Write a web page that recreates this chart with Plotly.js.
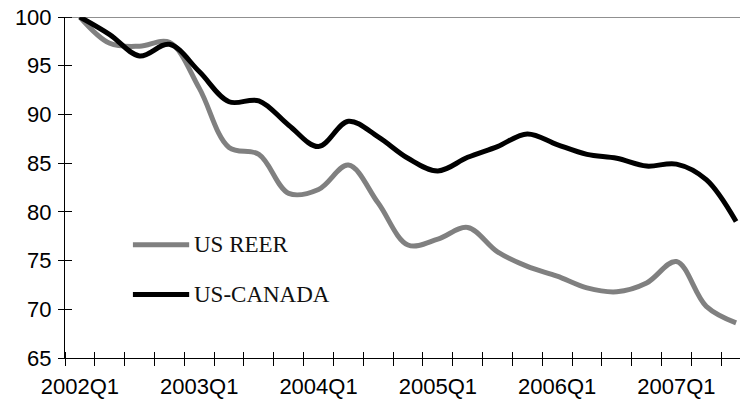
<!DOCTYPE html>
<html><head><meta charset="utf-8">
<script src="https://cdn.plot.ly/plotly-3.0.1.min.js"></script>
<style>
html,body{margin:0;padding:0;overflow:hidden;background:#fff;width:740px;height:404px}
#chart{width:760px;height:404px}
</style>
</head><body><div id="chart"></div>
<script>
const quarters = ['2002Q1','2002Q2','2002Q3','2002Q4','2003Q1','2003Q2','2003Q3','2003Q4',
  '2004Q1','2004Q2','2004Q3','2004Q4','2005Q1','2005Q2','2005Q3','2005Q4',
  '2006Q1','2006Q2','2006Q3','2006Q4','2007Q1','2007Q2','2007Q3'];
const usReer = [100, 97.3, 97.0, 97.4, 92.7, 86.6, 85.9, 81.9, 82.3, 84.8, 80.9, 76.6,
  77.2, 78.4, 75.9, 74.4, 73.4, 72.2, 71.8, 72.7, 74.9, 70.3, 68.6];
const usCanada = [100, 98.2, 96.0, 97.2, 94.4, 91.3, 91.4, 88.9, 86.7, 89.3, 87.7, 85.5,
  84.2, 85.6, 86.7, 88.0, 86.9, 85.9, 85.5, 84.7, 84.9, 83.3, 79.0];
const tickLabels = ['2002Q1','2003Q1','2004Q1','2005Q1','2006Q1','2007Q1'];
const seriesNames = ['US REER','US-CANADA'];
const seriesColors = ['#808080','#000000'];

const W = 760, H = 404, M = {l: 65, r: 9, t: 17, b: 46};
const plotW = W - M.l - M.r, plotH = H - M.t - M.b;
const tickHalf = 7; // ticks cross the axis line by 7px on each side

const n = quarters.length;
const xr = [-0.5, n - 0.5];
const boundaries = quarters.map((q, i) => i - 0.5).concat([n - 0.5]);
const tickFont = {family: 'Liberation Sans, Arial, sans-serif', size: 22, color: '#000'};

const traces = [
  {x: quarters, y: usReer, name: seriesNames[0], type: 'scatter', mode: 'lines',
   line: {color: seriesColors[0], width: 5, shape: 'spline', smoothing: 1}, hoverinfo: 'x+y+name'},
  {x: quarters, y: usCanada, name: seriesNames[1], type: 'scatter', mode: 'lines',
   line: {color: seriesColors[1], width: 5, shape: 'spline', smoothing: 1}, hoverinfo: 'x+y+name'},
  {x: [], y: [], xaxis: 'x2', yaxis: 'y2', showlegend: false, hoverinfo: 'skip'}
];

// legend drawn manually (long line samples as in the reference)
const legShapes = [], legAnn = [];
const legY = [0.332, 0.186];
seriesNames.forEach((nm, i) => {
  legShapes.push({type: 'line', xref: 'paper', yref: 'paper', x0: 0.099, x1: 0.181, y0: legY[i], y1: legY[i],
    line: {color: seriesColors[i], width: 5}});
  legAnn.push({xref: 'paper', yref: 'paper', x: 0.185, y: legY[i], xanchor: 'left', yanchor: 'middle',
    showarrow: false, text: nm, font: {family: 'Liberation Serif, Times New Roman, serif', size: 23, color: '#111'}});
});

const layout = {
  width: W, height: H,
  margin: M,
  paper_bgcolor: '#fff', plot_bgcolor: '#fff',
  showlegend: false,
  xaxis: {type: 'category', categoryorder: 'array', categoryarray: quarters, range: xr,
    tickmode: 'array', tickvals: tickLabels, ticktext: tickLabels, ticks: '', ticklabelstandoff: 9,
    showline: true, linecolor: '#000', linewidth: 1, showgrid: false, zeroline: false,
    tickfont: tickFont, fixedrange: true},
  // crossing tick marks at the quarter boundaries
  xaxis2: {overlaying: 'x', anchor: 'free', position: tickHalf / plotH, side: 'bottom',
    type: 'linear', range: xr, tickmode: 'array', tickvals: boundaries,
    ticks: 'outside', ticklen: 2 * tickHalf, tickcolor: '#000', tickwidth: 1, showticklabels: false,
    showline: false, showgrid: false, zeroline: false},
  yaxis: {range: [65, 100], dtick: 5, tick0: 65, ticks: '', ticklabelstandoff: 8,
    showline: true, linecolor: '#000', linewidth: 1, showgrid: false, zeroline: false,
    tickfont: tickFont, fixedrange: true},
  yaxis2: {overlaying: 'y', anchor: 'free', position: tickHalf / plotW, side: 'left',
    range: [65, 100], dtick: 5, tick0: 65, ticks: 'outside', ticklen: 2 * tickHalf,
    tickcolor: '#000', tickwidth: 1, showticklabels: false, showline: false, showgrid: false, zeroline: false},
  shapes: [{type: 'line', xref: 'paper', yref: 'y', x0: 0, x1: 1, y0: 100, y1: 100,
    line: {color: '#222', width: 1}}].concat(legShapes),
  annotations: legAnn
};

Plotly.newPlot('chart', traces, layout, {displayModeBar: false, staticPlot: true});
</script>
</body></html>
